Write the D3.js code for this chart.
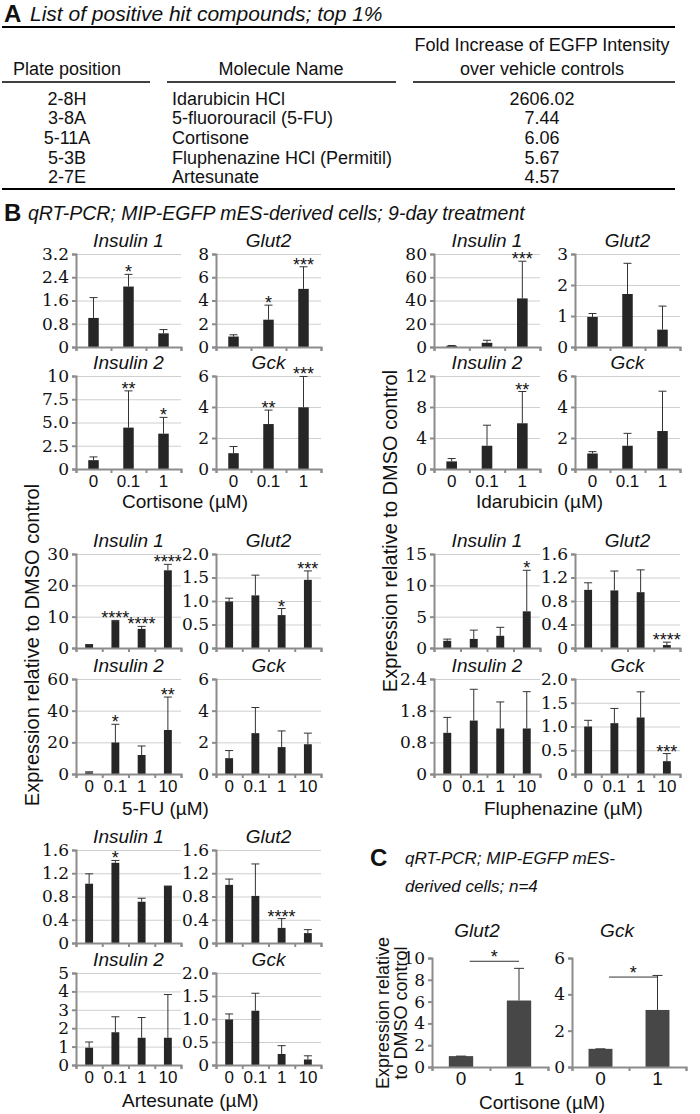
<!DOCTYPE html>
<html>
<head>
<meta charset="utf-8">
<script src="https://cdn.jsdelivr.net/npm/d3@7"></script>
<style>
  body { margin: 0; background: #fff; }
  svg { display: block; }
</style>
</head>
<body>
<svg id="fig" width="700" height="1114"></svg>
<script>
// ---- panel A table
const platePositions = ["2-8H", "3-8A", "5-11A", "5-3B", "2-7E"];
const moleculeNames = ["Idarubicin HCl", "5-fluorouracil (5-FU)", "Cortisone", "Fluphenazine HCl (Permitil)", "Artesunate"];
const foldIncrease = ["2606.02", "7.44", "6.06", "5.67", "4.57"];

// ---- panel B / C doses
const doses3 = ["0", "0.1", "1"];
const doses4 = ["0", "0.1", "1", "10"];
const dosesC = ["0", "1"];

// each row: [mean, top of error bar, significance]
const cortIns1 = [[1.0, 1.7, ""], [2.08, 2.5, "*"], [0.47, 0.6, ""]];
const cortGlut2 = [[0.9, 1.05, ""], [2.35, 3.6, "*"], [5.0, 6.9, "***"]];
const cortIns2 = [[0.95, 1.3, ""], [4.45, 8.4, "**"], [3.8, 5.55, "*"]];
const cortGck = [[1.02, 1.45, ""], [2.9, 3.8, "**"], [3.98, 5.97, "***"]];

const idaIns1 = [[1.0, 1.3, ""], [3.6, 5.8, ""], [41.8, 73.8, "***"]];
const idaGlut2 = [[0.97, 1.08, ""], [1.71, 2.7, ""], [0.56, 1.32, ""]];
const idaIns2 = [[0.98, 1.35, ""], [3.0, 5.65, ""], [5.9, 10.0, "**"]];
const idaGck = [[1.0, 1.12, ""], [1.5, 2.3, ""], [2.45, 5.02, ""]];

const fuIns1 = [[1.0, 1.1, ""], [8.6, 8.8, "****"], [6.1, 6.9, "****"], [24.8, 26.7, "****"]];
const fuGlut2 = [[0.99, 1.06, ""], [1.12, 1.55, ""], [0.7, 0.84, "*"], [1.45, 1.64, "***"]];
const fuIns2 = [[1.0, 1.4, ""], [19.9, 31.4, "*"], [12.0, 17.7, ""], [27.8, 48.6, "**"]];
const fuGck = [[1.0, 1.48, ""], [2.58, 4.2, ""], [1.7, 2.72, ""], [1.88, 2.58, ""]];

const fluIns1 = [[1.15, 1.42, ""], [1.45, 2.85, ""], [1.95, 3.3, ""], [5.85, 12.4, "*"]];
const fluGlut2 = [[0.99, 1.11, ""], [0.98, 1.31, ""], [0.95, 1.33, ""], [0.05, 0.1, "****"]];
const fluIns2 = [[1.04, 1.43, ""], [1.35, 2.14, ""], [1.15, 1.82, ""], [1.15, 2.08, ""]];
const fluGck = [[1.0, 1.13, ""], [1.07, 1.38, ""], [1.19, 1.73, ""], [0.27, 0.43, "***"]];

const artIns1 = [[1.02, 1.19, ""], [1.38, 1.42, "*"], [0.71, 0.77, ""], [0.98, 0.98, ""]];
const artGlut2 = [[1.0, 1.1, ""], [0.81, 1.36, ""], [0.26, 0.42, "****"], [0.17, 0.23, ""]];
const artIns2 = [[0.94, 1.25, ""], [1.78, 2.62, ""], [1.48, 2.58, ""], [1.48, 3.83, ""]];
const artGck = [[0.99, 1.11, ""], [1.18, 1.56, ""], [0.24, 0.42, ""], [0.12, 0.2, ""]];

const cGlut2 = [[1.0, 1.0, ""], [6.1, 9.05, ""]];
const cGck = [[1.0, 1.0, ""], [3.14, 5.04, ""]];
// bracket over the two bars: [label, height in data units]
const cGlut2Sig = ["*", 9.7];
const cGck2Sig = ["*", 4.95];

// tick labels (evenly spaced from 0 to the top of the axis)
const ticksIns1Cort = ["0", "0.8", "1.6", "2.4", "3.2"];
const ticks8 = ["0", "2", "4", "6", "8"];
const ticks10q = ["0", "2.5", "5.0", "7.5", "10"];
const ticks6 = ["0", "2", "4", "6"];
const ticks80 = ["0", "20", "40", "60", "80"];
const ticks3 = ["0", "1", "2", "3"];
const ticks12 = ["0", "4", "8", "12"];
const ticks30 = ["0", "10", "20", "30"];
const ticks2h = ["0", "0.5", "1.0", "1.5", "2.0"];
const ticks60 = ["0", "20", "40", "60"];
const ticks15 = ["0", "5", "10", "15"];
const ticks16 = ["0", "0.4", "0.8", "1.2", "1.6"];
const ticks24 = ["0", "0.8", "1.8", "2.4"];
const ticks5 = ["0", "1", "2", "3", "4", "5"];
const ticksC10 = ["0", "2", "4", "6", "8", "10"];

const sans = '"Liberation Sans", Arial, sans-serif';
const serif = '"DejaVu Serif", "Liberation Serif", serif';
const axisGray = "#8c8c8c";

const svg = d3.select("#fig");

function txt(x, y, s, size, opts) {
  opts = opts || {};
  return svg.append("text")
    .attr("x", x).attr("y", y)
    .attr("font-family", opts.family || sans)
    .attr("font-size", size)
    .attr("font-style", opts.italic ? "italic" : "normal")
    .attr("font-weight", opts.bold ? "bold" : "normal")
    .attr("text-anchor", opts.anchor || "start")
    .attr("fill", "#111")
    .text(s);
}

function hline(x1, x2, y, w) {
  svg.append("line").attr("x1", x1).attr("x2", x2).attr("y1", y).attr("y2", y)
    .attr("stroke", "#000").attr("stroke-width", w);
}

// ---------------- panel A
txt(4, 22, "A", 24, { bold: true });
txt(30, 21, "List of positive hit compounds; top 1%", 21, { italic: true });
hline(2, 675, 27, 2);
txt(542, 51, "Fold Increase of EGFP Intensity", 18, { anchor: "middle" });
txt(542, 75, "over vehicle controls", 18, { anchor: "middle" });
txt(67, 75, "Plate position", 18, { anchor: "middle" });
txt(281, 75, "Molecule Name", 18, { anchor: "middle" });
hline(2, 150, 82, 1.5);
hline(167, 396, 82, 1.5);
hline(413, 675, 82, 1.5);

const rowY = d3.scaleBand().domain(d3.range(platePositions.length)).range([89, 187]);
platePositions.forEach(function (p, i) {
  const by = rowY(i) + rowY.bandwidth() / 2 + 6;
  txt(67, by, p, 18, { anchor: "middle" });
  txt(172, by, moleculeNames[i], 18);
  txt(542, by, foldIncrease[i], 18, { anchor: "middle" });
});
hline(2, 675, 189, 2);

// ---------------- panel B
txt(4, 221, "B", 24, { bold: true });
txt(28, 220, "qRT-PCR; MIP-EGFP mES-derived cells; 9-day treatment", 19.5, { italic: true });

function barChart(data, cats, tickLabels, title, xr, yr, opts) {
  opts = opts || {};
  const g = svg.append("g");
  const yMax = opts.yMax || +tickLabels[tickLabels.length - 1];
  const tickVals = tickLabels.map(function (t, i) { return i * yMax / (tickLabels.length - 1); });
  const x = d3.scaleBand().domain(cats).range(xr);
  const y = d3.scaleLinear().domain([0, yMax]).range(yr);
  const edges = d3.scaleLinear().domain([0, cats.length]).range(xr);

  if (opts.grid !== false) {
    g.append("g")
      .attr("transform", "translate(" + xr[0] + ",0)")
      .call(d3.axisRight(y).tickValues(tickVals.slice(1)).tickSize(xr[1] - xr[0]).tickFormat(""))
      .call(function (a) {
        a.select(".domain").remove();
        a.selectAll("line").attr("stroke", "#cfcfcf").attr("stroke-width", 1);
      });
  }

  // bars
  const bw = x.bandwidth() * (opts.barFrac || 0.3);
  g.selectAll(".bar").data(data).enter().append("rect")
    .attr("x", function (d, i) { return x(cats[i]) + (x.bandwidth() - bw) / 2; })
    .attr("y", function (d) { return y(d[0]); })
    .attr("width", bw)
    .attr("height", function (d) { return y(0) - y(d[0]); })
    .attr("fill", opts.fill || "#262626");

  // error bars and stars
  const cx = function (i) { return x(cats[i]) + x.bandwidth() / 2; };
  const capW = opts.cap || 4;
  data.forEach(function (d, i) {
    g.append("line").attr("x1", cx(i)).attr("x2", cx(i))
      .attr("y1", y(d[0])).attr("y2", y(d[1]))
      .attr("stroke", "#333").attr("stroke-width", 1);
    g.append("line").attr("x1", cx(i) - capW).attr("x2", cx(i) + capW)
      .attr("y1", y(d[1])).attr("y2", y(d[1]))
      .attr("stroke", "#333").attr("stroke-width", 1);
    if (d[2]) {
      g.append("text").attr("x", cx(i)).attr("y", y(d[1]) + 4)
        .attr("text-anchor", "middle").attr("font-family", sans)
        .attr("font-size", 18).attr("fill", "#111").text(d[2]);
    }
  });

  // y axis
  g.append("g")
    .attr("transform", "translate(" + xr[0] + ",0)")
    .call(d3.axisLeft(y).tickValues(tickVals).tickSizeOuter(0).tickSize(4).tickPadding(3)
      .tickFormat(function (d, i) { return tickLabels[i]; }))
    .call(function (a) {
      a.select(".domain").attr("stroke", axisGray).attr("stroke-width", 2);
      a.selectAll("line").attr("stroke", axisGray).attr("stroke-width", 2);
      a.selectAll("text").attr("font-family", serif).attr("font-size", opts.ySize || 17).attr("fill", "#111");
    });

  // x axis: ticks at band edges, labels at band centres
  g.append("g")
    .attr("transform", "translate(0," + yr[0] + ")")
    .call(d3.axisBottom(edges).tickValues(d3.range(cats.length + 1)).tickSizeOuter(0).tickSize(4).tickFormat(""))
    .call(function (a) {
      a.select(".domain").attr("stroke", axisGray).attr("stroke-width", 2);
      a.selectAll("line").attr("stroke", axisGray).attr("stroke-width", 2);
    });
  if (opts.labels) {
    g.append("g")
      .attr("transform", "translate(0," + yr[0] + ")")
      .call(d3.axisBottom(x).tickSize(0).tickPadding(opts.labelPad || 6))
      .call(function (a) {
        a.select(".domain").remove();
        a.selectAll("text").attr("font-family", sans).attr("font-size", opts.xSize || 17).attr("fill", "#111");
      });
  }

  txt(opts.titleX || (xr[0] + xr[1]) / 2, opts.titleY || yr[1] - 7, title, 19, { italic: true, anchor: "middle" });
  return { x: x, y: y };
}

const leftA = [76, 181], leftB = [216, 321], rightA = [434, 540], rightB = [575, 680];
const r1 = [347, 254], r2 = [469, 376], r3 = [648, 554], r4 = [774, 679], r5 = [943, 850], r6 = [1065, 973];

// cortisone
barChart(cortIns1, doses3, ticksIns1Cort, "Insulin 1", leftA, r1);
barChart(cortGlut2, doses3, ticks8, "Glut2", leftB, r1);
barChart(cortIns2, doses3, ticks10q, "Insulin 2", leftA, r2, { labels: true });
barChart(cortGck, doses3, ticks6, "Gck", leftB, r2, { labels: true });
txt(122, 508, "Cortisone (\u00b5M)", 19);

// idarubicin
barChart(idaIns1, doses3, ticks80, "Insulin 1", rightA, r1);
barChart(idaGlut2, doses3, ticks3, "Glut2", rightB, r1);
barChart(idaIns2, doses3, ticks12, "Insulin 2", rightA, r2, { labels: true });
barChart(idaGck, doses3, ticks6, "Gck", rightB, r2, { labels: true });
txt(476, 508, "Idarubicin (\u00b5M)", 19);

// 5-FU
barChart(fuIns1, doses4, ticks30, "Insulin 1", leftA, r3);
barChart(fuGlut2, doses4, ticks2h, "Glut2", leftB, r3);
barChart(fuIns2, doses4, ticks60, "Insulin 2", leftA, r4, { labels: true });
barChart(fuGck, doses4, ticks6, "Gck", leftB, r4, { labels: true });
txt(122, 815, "5-FU (\u00b5M)", 19);

// fluphenazine
barChart(fluIns1, doses4, ticks15, "Insulin 1", rightA, r3);
barChart(fluGlut2, doses4, ticks16, "Glut2", rightB, r3);
barChart(fluIns2, doses4, ticks24, "Insulin 2", rightA, r4, { labels: true, yMax: 2.4 });
barChart(fluGck, doses4, ticks2h, "Gck", rightB, r4, { labels: true });
txt(484, 815, "Fluphenazine (\u00b5M)", 19);

// artesunate
barChart(artIns1, doses4, ticks16, "Insulin 1", leftA, r5);
barChart(artGlut2, doses4, ticks16, "Glut2", leftB, r5);
barChart(artIns2, doses4, ticks5, "Insulin 2", leftA, r6, { labels: true });
barChart(artGck, doses4, ticks2h, "Gck", leftB, r6, { labels: true });
txt(122, 1107, "Artesunate (\u00b5M)", 19);

// shared y labels
txt(39, 645, "Expression relative to DMSO control", 20, { anchor: "middle" })
  .attr("transform", "rotate(-90,39,645)");
txt(397, 531, "Expression relative to DMSO control", 20, { anchor: "middle" })
  .attr("transform", "rotate(-90,397,531)");

// ---------------- panel C
txt(370, 866, "C", 24, { bold: true });
txt(405, 864, "qRT-PCR; MIP-EGFP mES-", 17, { italic: true });
txt(405, 892, "derived cells; n=4", 17, { italic: true });

const cOpts = { grid: false, labels: true, barFrac: 0.42, cap: 5, fill: "#474747", ySize: 17, xSize: 19, labelPad: 5, titleY: 937 };
const cg = barChart(cGlut2, dosesC, ticksC10, "Glut2", [432, 548], [1067, 958], Object.assign({}, cOpts, { titleX: 477 }));
const ck = barChart(cGck, dosesC, ticks6, "Gck", [572, 686], [1067, 958], Object.assign({}, cOpts, { titleX: 617 }));

function sigBracket(sc, sig) {
  const x1 = sc.x(dosesC[0]) + sc.x.bandwidth() * 0.65;
  const x2 = sc.x(dosesC[1]) + sc.x.bandwidth() * 0.5;
  const yy = sc.y(sig[1]);
  svg.append("line").attr("x1", x1).attr("x2", x2).attr("y1", yy).attr("y2", yy)
    .attr("stroke", "#333").attr("stroke-width", 1);
  txt((x1 + x2) / 2, yy + 2, sig[0], 18, { anchor: "middle" });
}
sigBracket(cg, cGlut2Sig);
sigBracket(ck, cGck2Sig);

txt(542, 1109, "Cortisone (\u00b5M)", 19, { anchor: "middle" });
txt(389, 1013, "Expression relative", 18, { anchor: "middle" }).attr("transform", "rotate(-90,389,1013)");
txt(407, 1013, "to DMSO control", 18, { anchor: "middle" }).attr("transform", "rotate(-90,407,1013)");
</script>
</body>
</html>
